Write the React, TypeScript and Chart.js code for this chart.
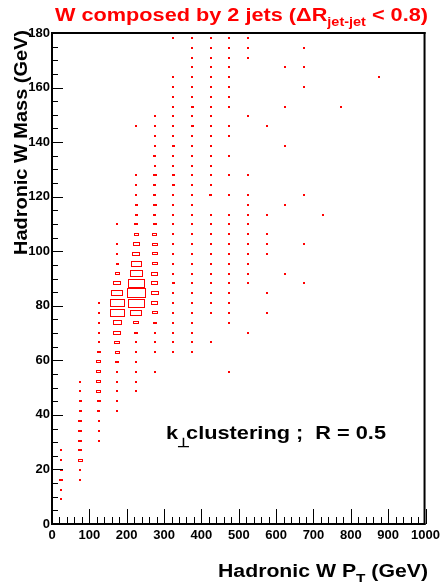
import { useEffect, useRef } from "react";
import { Chart, registerables } from "chart.js";

Chart.register(...registerables);

const FONT = "'Liberation Sans', Arial, Helvetica, sans-serif";

// Histogram binning
const ptBinWidth = 50; // GeV
const massBinWidth = 3.6; // GeV

const xTickValues = [0, 100, 200, 300, 400, 500, 600, 700, 800, 900, 1000];
const xTickLabels = ["0", "100", "200", "300", "400", "500", "600", "700", "800", "900", "1000"];
const yTickValues = [0, 20, 40, 60, 80, 100, 120, 140, 160, 180];
const yTickLabels = ["0", "20", "40", "60", "80", "100", "120", "140", "160", "180"];

// Each pT column: [mass bin index, relative bin content (max = 100)]
const pt25 = [[2, 10], [3, 10], [4, 21], [5, 16], [6, 10], [7, 10]];
const pt75 = [[4, 10], [5, 10], [6, 26], [7, 21], [8, 21], [9, 21], [10, 21], [11, 15], [12, 15], [13, 10], [14, 10]];
const pt125 = [[8, 10], [9, 10], [10, 10], [11, 15], [12, 21], [13, 26], [14, 26], [15, 26], [16, 26], [17, 21], [18, 10], [19, 10], [20, 10], [21, 10], [22, 10]];
const pt175 = [[11, 10], [12, 10], [13, 10], [14, 10], [15, 10], [16, 21], [17, 26], [18, 32], [19, 42], [20, 48], [21, 79], [22, 79], [23, 63], [24, 42], [25, 26], [26, 15], [27, 10], [28, 10], [30, 10]];
const pt225 = [[13, 10], [14, 10], [15, 10], [16, 10], [17, 10], [18, 12], [19, 21], [20, 32], [21, 63], [22, 90], [23, 100], [24, 90], [25, 69], [26, 58], [27, 42], [28, 37], [29, 26], [30, 21], [31, 15], [32, 15], [33, 10], [34, 10], [35, 10], [40, 10]];
const pt275 = [[15, 10], [17, 10], [18, 10], [19, 10], [20, 21], [21, 32], [22, 37], [23, 42], [24, 37], [25, 37], [26, 32], [27, 32], [28, 32], [29, 26], [30, 21], [31, 15], [32, 21], [33, 15], [34, 15], [35, 20], [36, 10], [37, 15], [38, 10], [39, 10], [40, 10], [41, 10]];
const pt325 = [[17, 10], [18, 10], [19, 10], [20, 10], [21, 10], [22, 10], [23, 10], [24, 15], [25, 12], [26, 12], [27, 12], [28, 12], [29, 12], [30, 12], [31, 12], [32, 12], [33, 12], [34, 15], [35, 15], [36, 10], [37, 10], [38, 15], [39, 10], [40, 10], [41, 10], [42, 10], [43, 10], [44, 10], [45, 10], [49, 10]];
const pt375 = [[17, 10], [18, 10], [19, 10], [20, 10], [21, 10], [22, 10], [23, 10], [24, 12], [25, 10], [26, 10], [27, 10], [28, 10], [29, 10], [30, 10], [31, 10], [32, 10], [33, 10], [34, 10], [35, 10], [36, 10], [37, 10], [38, 10], [39, 10], [40, 15], [41, 10], [42, 15], [43, 10], [44, 10], [45, 10], [46, 10], [47, 10], [48, 10], [49, 10]];
const pt425 = [[18, 10], [21, 10], [22, 10], [23, 10], [24, 10], [25, 10], [26, 10], [27, 10], [28, 10], [29, 10], [30, 10], [31, 10], [33, 15], [34, 10], [35, 10], [36, 10], [37, 10], [38, 10], [39, 10], [40, 10], [41, 10], [42, 10], [43, 10], [44, 10], [45, 10], [46, 10], [47, 10], [48, 10], [49, 10]];
const pt475 = [[15, 10], [20, 10], [21, 10], [22, 10], [23, 10], [24, 10], [25, 10], [26, 10], [27, 10], [28, 10], [29, 10], [30, 10], [31, 10], [33, 10], [35, 10], [37, 10], [39, 10], [40, 10], [42, 10], [43, 10], [44, 10], [45, 10], [46, 10], [47, 10], [48, 10], [49, 10]];
const pt525 = [[19, 10], [24, 10], [25, 10], [26, 10], [27, 10], [28, 10], [29, 10], [30, 10], [31, 10], [32, 10], [33, 10], [35, 10], [41, 10], [47, 10], [48, 10], [49, 10]];
const pt575 = [[21, 10], [23, 10], [27, 10], [28, 10], [29, 10], [31, 10], [40, 10]];
const pt625 = [[25, 10], [32, 10], [38, 10], [42, 10], [46, 10]];
const pt675 = [[24, 10], [28, 10], [33, 10], [44, 10], [46, 10], [48, 10]];
const pt725 = [[31, 10]];
const pt775 = [[42, 10]];
const pt875 = [[45, 10]];

const ptColumns: [number, number[][]][] = [
  [25, pt25], [75, pt75], [125, pt125], [175, pt175], [225, pt225], [275, pt275],
  [325, pt325], [375, pt375], [425, pt425], [475, pt475], [525, pt525], [575, pt575],
  [625, pt625], [675, pt675], [725, pt725], [775, pt775], [875, pt875],
];

type Part = { t: string; size: number; dy?: number; dx?: number };

function drawRich(
  ctx: CanvasRenderingContext2D,
  parts: Part[],
  x: number,
  y: number,
  width: number,
  align: "left" | "right",
  color: string,
  rotate = false
) {
  ctx.save();
  let total = 0;
  const widths: number[] = [];
  for (const p of parts) {
    ctx.font = `bold ${p.size}px ${FONT}`;
    const w = ctx.measureText(p.t).width;
    widths.push(w);
    total += w + (p.dx || 0);
  }
  const s = width / total;
  ctx.translate(x, y);
  if (rotate) ctx.rotate(-Math.PI / 2);
  ctx.scale(s, 1);
  let cur = align === "left" ? 0 : -total;
  ctx.fillStyle = color;
  ctx.textBaseline = "alphabetic";
  ctx.textAlign = "left";
  parts.forEach((p, i) => {
    ctx.font = `bold ${p.size}px ${FONT}`;
    cur += p.dx || 0;
    ctx.fillText(p.t, cur, p.dy || 0);
    cur += widths[i];
  });
  ctx.restore();
}

const boxPlugin = {
  id: "rootBoxes",
  afterDatasetsDraw(chart: any) {
    const ctx: CanvasRenderingContext2D = chart.ctx;
    const xs = chart.scales.x;
    const ys = chart.scales.y;
    const bw = Math.abs(xs.getPixelForValue(ptBinWidth) - xs.getPixelForValue(0));
    const bh = Math.abs(ys.getPixelForValue(0) - ys.getPixelForValue(massBinWidth));
    const meta = chart.getDatasetMeta(0);
    const data = chart.data.datasets[0].data;
    ctx.save();
    ctx.fillStyle = "#ff0000";
    ctx.strokeStyle = "#ff0000";
    ctx.lineWidth = 1;
    meta.data.forEach((el: any, i: number) => {
      const f = data[i].v / 100;
      const w = f * bw;
      const h = f * bh;
      const ww = Math.max(2, Math.round(w));
      const hh = Math.max(2, Math.round(h));
      const x0 = Math.round(el.x - ww / 2);
      const y0 = Math.round(el.y - hh / 2);
      if (ww >= 4 && hh >= 3) {
        ctx.strokeRect(x0 + 0.5, y0 + 0.5, ww - 1, hh - 1);
      } else {
        ctx.fillRect(x0, y0, ww, hh);
      }
    });
    ctx.restore();
  },
  afterDraw(chart: any) {
    const ctx: CanvasRenderingContext2D = chart.ctx;
    const { left, right, top, bottom } = chart.chartArea;
    const xs = chart.scales.x;
    const ys = chart.scales.y;
    ctx.save();
    ctx.fillStyle = "#000";
    // ticks inside the frame
    for (let v = 0; v <= 1000; v += 20) {
      const px = Math.round(xs.getPixelForValue(v));
      const len = v % 100 === 0 ? 15 : 7;
      ctx.fillRect(px, bottom - len, 1, len);
    }
    for (let v = 0; v <= 180; v += 5) {
      const py = Math.round(ys.getPixelForValue(v));
      const len = v % 20 === 0 ? 11 : 6;
      ctx.fillRect(left, py, len, 1);
    }
    // frame
    ctx.fillRect(left - 1, top - 1, right - left + 1, 2);
    ctx.fillRect(right - 2, top - 1, 2, bottom - top + 2);
    ctx.fillRect(left - 1, top - 1, 2, bottom - top + 2);
    ctx.fillRect(left - 1, bottom - 1, right - left + 1, 2);
    ctx.restore();

    // Title
    drawRich(
      ctx,
      [
        { t: "W composed by 2 jets (\u0394R", size: 18 },
        { t: "jet-jet", size: 12, dy: 5 },
        { t: " < 0.8)", size: 18 },
      ],
      55, 21, 373, "left", "#ff0000"
    );
    // X axis title
    drawRich(
      ctx,
      [
        { t: "Hadronic W P", size: 18 },
        { t: "T", size: 13, dy: 6 },
        { t: " (GeV)", size: 18 },
      ],
      428, 577, 210, "right", "#000"
    );
    // Y axis title
    drawRich(
      ctx,
      [{ t: "Hadronic W Mass (GeV)", size: 19 }],
      27, 255, 225, "left", "#000", true
    );
    // annotation
    drawRich(
      ctx,
      [
        { t: "k", size: 19 },
        { t: "\u22A5", size: 13, dy: 8, dx: -1 },
        { t: "clustering ;  R = 0.5", size: 19, dx: -3 },
      ],
      166, 439, 220, "left", "#000"
    );
  },
};

export default function App() {
  const ref = useRef<HTMLCanvasElement | null>(null);
  useEffect(() => {
    document.body.style.margin = "0";
    const canvas = ref.current;
    if (!canvas) return;
    const points: { x: number; y: number; v: number }[] = [];
    for (const [pt, cells] of ptColumns) {
      for (const [r, v] of cells) {
        points.push({ x: pt, y: (r + 0.5) * massBinWidth, v });
      }
    }
    const tickFont = { family: FONT, size: 13, weight: "bold" as const };
    const chart = new Chart(canvas, {
      type: "scatter",
      data: {
        datasets: [
          {
            data: points,
            pointRadius: 0,
            pointHoverRadius: 0,
            showLine: false,
          },
        ],
      },
      plugins: [boxPlugin],
      options: {
        animation: false,
        responsive: false,
        devicePixelRatio: 1,
        events: [],
        layout: { padding: { left: 0, top: 33, right: 15, bottom: 0 } },
        plugins: {
          legend: { display: false },
          title: { display: false },
          tooltip: { enabled: false },
        },
        scales: {
          x: {
            type: "linear",
            position: "bottom",
            min: 0,
            max: 1000,
            grid: { display: false, drawTicks: false },
            border: { display: false },
            afterBuildTicks: (s: any) => {
              s.ticks = xTickValues.map((v) => ({ value: v }));
            },
            afterFit: (s: any) => {
              s.height = 58;
            },
            ticks: {
              autoSkip: false,
              maxRotation: 0,
              minRotation: 0,
              padding: 4,
              color: "#000",
              font: tickFont,
              callback: (_v: any, i: number) => xTickLabels[i],
            },
          },
          y: {
            type: "linear",
            position: "left",
            min: 0,
            max: 180,
            grid: { display: false, drawTicks: false },
            border: { display: false },
            afterBuildTicks: (s: any) => {
              s.ticks = yTickValues.map((v) => ({ value: v }));
            },
            afterFit: (s: any) => {
              s.width = 52;
            },
            ticks: {
              autoSkip: false,
              padding: 2,
              color: "#000",
              font: tickFont,
              callback: (_v: any, i: number) => yTickLabels[i],
            },
          },
        },
      } as any,
    });
    return () => chart.destroy();
  }, []);
  return (
    <div style={{ width: 444, height: 582, background: "#fff" }}>
      <canvas ref={ref} width={444} height={582} style={{ display: "block", width: 444, height: 582 }} />
    </div>
  );
}
